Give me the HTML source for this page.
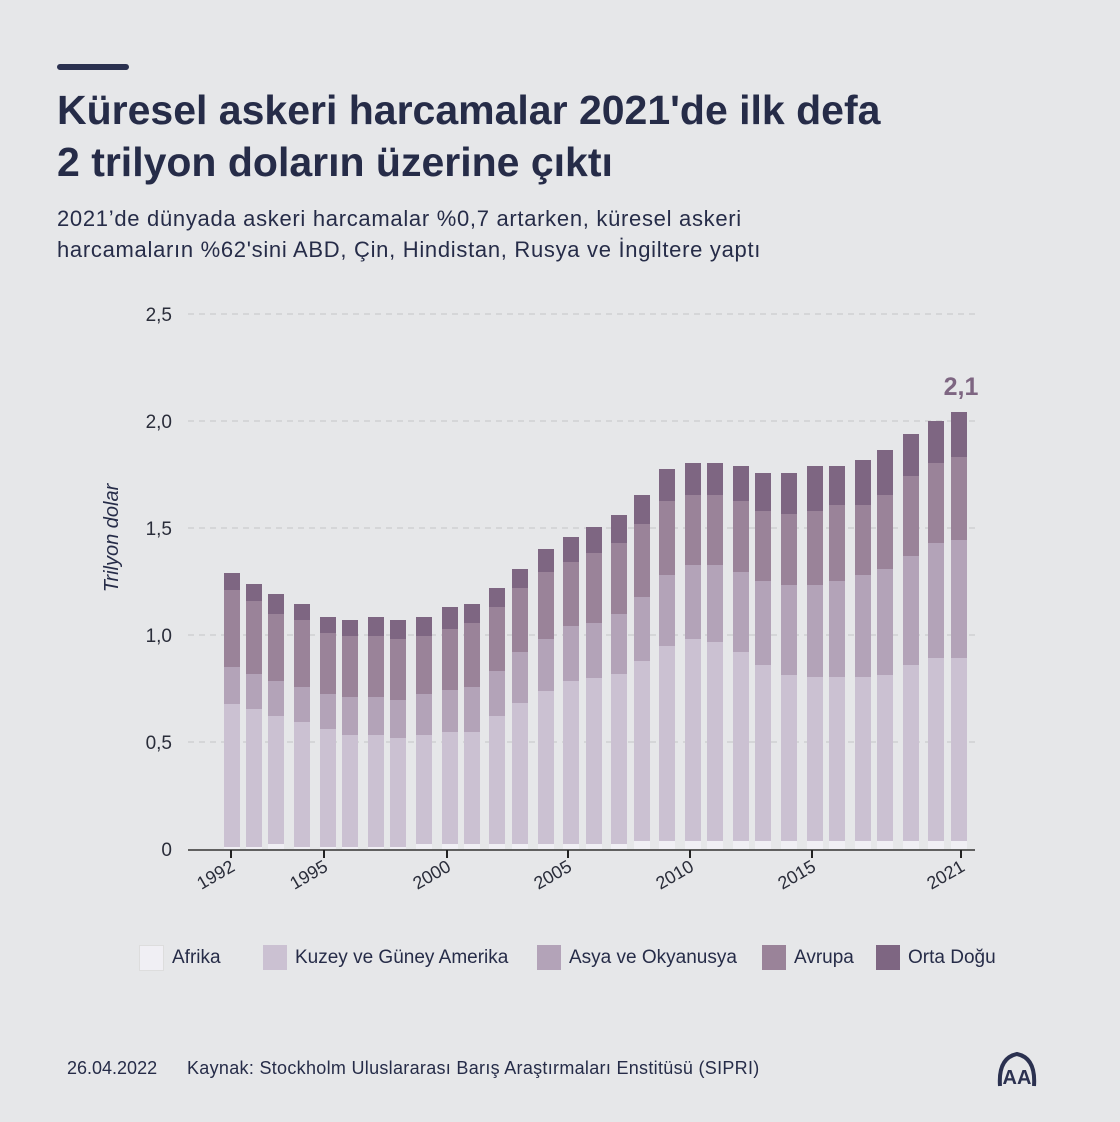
<!DOCTYPE html>
<html><head><meta charset="utf-8"><style>
body{margin:0;background:#e6e7e9;}
.w{position:relative;width:1120px;height:1122px;overflow:hidden;background:#e6e7e9;font-family:"Liberation Sans",sans-serif;color:#232a45;}
.bar{position:absolute;left:57px;top:64px;width:72px;height:6px;border-radius:3px;background:#2b3150;}
h1{position:absolute;left:57px;top:84px;margin:0;font-size:41px;line-height:52px;font-weight:bold;color:#262c48;letter-spacing:0px;white-space:nowrap;}
.sub{position:absolute;left:57px;top:203px;font-size:22px;line-height:31px;color:#262c48;letter-spacing:0.7px;white-space:nowrap;}
.leg{position:absolute;top:945px;font-size:19px;color:#262c48;display:flex;align-items:center;}
.leg i{display:inline-block;width:24px;height:25px;margin-right:8px;}
.foot{position:absolute;top:1058px;font-size:18px;color:#262c48;white-space:nowrap;}
</style></head><body><div class="w">
<div class="bar"></div>
<h1>Küresel askeri harcamalar 2021'de ilk defa<br>2 trilyon doların üzerine çıktı</h1>
<div class="sub">2021’de dünyada askeri harcamalar %0,7 artarken, küresel askeri<br>harcamaların %62'sini ABD, Çin, Hindistan, Rusya ve İngiltere yaptı</div>
<svg id="c" width="1120" height="1122" style="position:absolute;left:0;top:0" font-family="Liberation Sans, sans-serif">
<g stroke="#c4c5c8" stroke-dasharray="6,5" stroke-width="1">
<line x1="188" x2="975" y1="314" y2="314"/><line x1="188" x2="975" y1="421" y2="421"/><line x1="188" x2="975" y1="528" y2="528"/><line x1="188" x2="975" y1="635" y2="635"/><line x1="188" x2="975" y1="742" y2="742"/>
</g>
<g font-size="19" fill="#2a2d3a" text-anchor="end">
<text x="172" y="321">2,5</text><text x="172" y="428">2,0</text><text x="172" y="535">1,5</text><text x="172" y="642">1,0</text><text x="172" y="749">0,5</text><text x="172" y="856">0</text>
</g>
<text transform="translate(118,538) rotate(-90)" text-anchor="middle" font-size="20" font-style="italic" fill="#262c48">Trilyon dolar</text>
<g id="bars"></g>
<line x1="188" x2="975" y1="850" y2="850" stroke="#333" stroke-width="1.5"/>
<g stroke="#222" stroke-width="2">
<line x1="231" x2="231" y1="850" y2="858"/><line x1="324" x2="324" y1="850" y2="858"/><line x1="447" x2="447" y1="850" y2="858"/><line x1="568" x2="568" y1="850" y2="858"/><line x1="690" x2="690" y1="850" y2="858"/><line x1="812" x2="812" y1="850" y2="858"/><line x1="961" x2="961" y1="850" y2="858"/>
</g>
<g font-size="18" fill="#2a2d3a" text-anchor="end">
<text transform="translate(236,870) rotate(-30)">1992</text>
<text transform="translate(329,870) rotate(-30)">1995</text>
<text transform="translate(452,870) rotate(-30)">2000</text>
<text transform="translate(573,870) rotate(-30)">2005</text>
<text transform="translate(695,870) rotate(-30)">2010</text>
<text transform="translate(817,870) rotate(-30)">2015</text>
<text transform="translate(966,870) rotate(-30)">2021</text>
</g>
<text x="961" y="395" text-anchor="middle" font-size="25" font-weight="bold" fill="#7e6682">2,1</text>
</svg>
<div class="leg" style="left:139px"><i style="background:#f0eff4;border:1px solid #ddd;width:23px;height:24px"></i>Afrika</div>
<div class="leg" style="left:263px"><i style="background:#cbc1d2"></i>Kuzey ve Güney Amerika</div>
<div class="leg" style="left:537px"><i style="background:#b3a3b8"></i>Asya ve Okyanusya</div>
<div class="leg" style="left:762px"><i style="background:#9a8399"></i>Avrupa</div>
<div class="leg" style="left:876px"><i style="background:#7e6682"></i>Orta Doğu</div>
<div class="foot" style="left:67px">26.04.2022</div>
<div class="foot" style="left:187px;letter-spacing:0.3px">Kaynak: Stockholm Uluslararası Barış Araştırmaları Enstitüsü (SIPRI)</div>
<svg style="position:absolute;left:996px;top:1050px" width="42" height="38" viewBox="0 0 42 38"><path d="M4 36 Q2 8 21 4 Q40 8 38 36" fill="none" stroke="#2b3150" stroke-width="4"/><text x="21" y="34" text-anchor="middle" font-size="20" font-weight="bold" fill="#2b3150" font-family="Liberation Sans, sans-serif">AA</text></svg>
</div>
<script>
var d=[[224,573,590,667,704,847],[246,584,601,674,709,847],[268,594,614,681,716,844],[294,604,620,687,722,847],[320,617,633,694,729,847],[342,620,636,697,735,847],[368,617,636,697,735,847],[390,620,639,700,738,847],[416,617,636,694,735,844],[442,607,629,690,732,844],[464,604,623,687,732,844],[489,588,607,671,716,844],[512,569,588,652,703,844],[538,549,572,639,691,844],[563,537,562,626,681,844],[586,527,553,623,678,844],[611,515,543,614,674,844],[634,495,524,597,661,841],[659,469,501,575,646,841],[685,463,495,565,639,841],[707,463,495,565,642,841],[733,466,501,572,652,841],[755,473,511,581,665,841],[781,473,514,585,675,841],[807,466,511,585,677,841],[829,466,505,581,677,841],[855,460,505,575,677,841],[877,450,495,569,675,841],[903,434,476,556,665,841],[928,421,463,543,658,841],[951,412,457,540,658,841]];
var c=["#7e6682","#9a8399","#b3a3b8","#cbc1d2","#f0eff4"],h="";
d.forEach(function(b){var y=[b[1],b[2],b[3],b[4],b[5],849];for(var i=0;i<5;i++)h+='<rect x="'+b[0]+'" y="'+y[i]+'" width="16" height="'+(y[i+1]-y[i])+'" fill="'+c[i]+'"/>';});
document.getElementById("bars").innerHTML=h;
</script>
</body></html>
